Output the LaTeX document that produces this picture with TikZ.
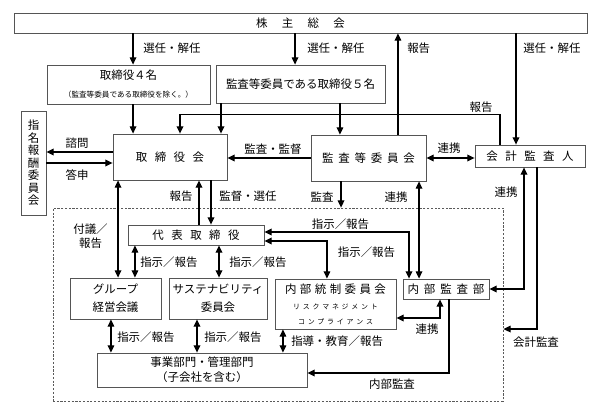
\documentclass[tikz,border=0pt]{standalone}
\usepackage{fontspec}
\setmainfont{Noto Sans CJK JP}
\usetikzlibrary{arrows.meta,positioning,calc}

\newcommand{\gapw}{\hspace{0.65em}}
\newcommand{\gapn}{\hspace{0.42em}}
\newcommand{\gaps}{\hspace{0.4em}}

\tikzset{
  box/.style={draw={rgb, 255:red, 85; green, 85; blue, 85 }, line width=0.6pt, inner sep=0pt, align=center, font=\fontsize{8.6}{11}\selectfont},
  lbl/.style={inner sep=0.75pt, align=center, font=\fontsize{8.6}{10.5}\selectfont},
  arr/.style={line width=0.9pt, -{Triangle[length=5.5pt,width=5pt]}},
  darr/.style={line width=0.9pt, {Triangle[length=5.5pt,width=5pt]}-{Triangle[length=5.5pt,width=5pt]}},
}

\begin{document}
\begin{tikzpicture}[x=0.75pt,y=0.75pt,yscale=-1,xscale=1]
\useasboundingbox (0,0) rectangle (600,403);

%Shape: Dashed frame
\node[draw={rgb, 255:red, 90; green, 90; blue, 90 }, line width=0.5pt, dash pattern=on 1.6pt off 1.2pt, minimum width=337.5pt, minimum height=144.75pt] (inner) at (278,304.5) {};

%Shape: Boxes
\node[box, minimum width=429.75pt, minimum height=15pt] (soukai) at (300.5,23) {株\hspace{1.25em}主\hspace{1.25em}総\hspace{1.25em}会};
\node[box, minimum width=122.25pt, minimum height=29.25pt] (tori4) at (128.5,84.5) {取締役４名\\[2.5pt]{\fontsize{5.7}{7}\selectfont （監査等委員である取締役を除く。）}};
\node[box, minimum width=126.75pt, minimum height=28.5pt] (kansa5) at (300.5,84) {監査等委員である取締役５名};
\node[box, minimum width=85.5pt, minimum height=34.5pt] (board) at (170,157) {取\gapw 締\gapw 役\gapw 会};
\node[box, minimum width=18.75pt, minimum height=78pt, font=\fontsize{8.6}{9.4}\selectfont] (nomi) at (33.5,163) {指\\名\\報\\酬\\委\\員\\会};
\node[box, minimum width=86.25pt, minimum height=34.5pt] (audit) at (368.5,158) {監\gapn 査\gapn 等\gapn 委\gapn 員\gapn 会};
\node[box, minimum width=82.5pt, minimum height=16.5pt] (kaikei) at (530,156) {会\gapw 計\gapw 監\gapw 査\gapw 人};
\node[box, minimum width=102pt, minimum height=15pt] (daihyo) at (196,235) {代\gapw 表\gapw 取\gapw 締\gapw 役};
\node[box, minimum width=68.25pt, minimum height=30.75pt] (group) at (115.5,298.5) {グループ\\[2.5pt]経営会議};
\node[box, minimum width=73.5pt, minimum height=30.75pt] (sustain) at (218,298.5) {サステナビリティ\\[2.5pt]委員会};
\node[box, minimum width=90.75pt, minimum height=37.5pt] (naibu) at (335.5,304) {内\hspace{0.3em}部\hspace{0.3em}統\hspace{0.3em}制\hspace{0.3em}委\hspace{0.3em}員\hspace{0.3em}会\\[1pt]{\fontsize{5.2}{9}\selectfont リ\gaps ス\gaps ク\gaps マ\gaps ネ\gaps ジ\gaps メ\gaps ン\gaps ト}\\{\fontsize{5.2}{9}\selectfont コ\gaps ン\gaps プ\gaps ラ\gaps イ\gaps ア\gaps ン\gaps ス}};
\node[box, minimum width=64.5pt, minimum height=15pt] (auddept) at (446,289) {内\gapn 部\gapn 監\gapn 査\gapn 部};
\node[box, minimum width=157.5pt, minimum height=25.5pt] (jigyo) at (202,370) {事業部門・管理部門\\[0.5pt]（子会社を含む）};

%Arrows: general meeting
\draw[arr] ([xshift=3.4pt]tori4.north |- soukai.south) -- ([xshift=3.4pt]tori4.north);
\draw[arr] ([xshift=-4.1pt]kansa5.north |- soukai.south) -- ([xshift=-4.1pt]kansa5.north);
\draw[arr] ([xshift=22.1pt]audit.north) -- ([xshift=22.1pt]audit.north |- soukai.south);
\draw[arr] ([xshift=-10.5pt]kaikei.north |- soukai.south) -- ([xshift=-10.5pt]kaikei.north);

%Arrows: board
\draw[arr] ([xshift=3.4pt]tori4.south) -- ([xshift=3.4pt]tori4.south |- board.north);
\draw[arr] ([xshift=38.25pt]board.north |- kansa5.south) -- ([xshift=38.25pt]board.north);
\draw[arr] ([xshift=-21.4pt]audit.north |- kansa5.south) -- ([xshift=-21.4pt]audit.north);
\draw[arr] ([xshift=-22.5pt]kaikei.north) -- ++(0,-30) -| ([xshift=7.5pt]board.north);
\draw[arr] ([yshift=-3.75pt]board.west) -- ([yshift=-3.75pt]board.west -| nomi.east);
\draw[arr] ([yshift=4.5pt]board.west -| nomi.east) -- ([yshift=4.5pt]board.west);
\draw[arr] (audit.west) -- (audit.west -| board.east);
\draw[darr] (audit.east) -- (audit.east -| kaikei.west);

%Arrows: executive side
\draw[arr] ([xshift=2.25pt]daihyo.north) -- ([xshift=2.25pt]daihyo.north |- board.south);
\draw[arr] ([xshift=11.25pt]daihyo.north |- board.south) -- ([xshift=11.25pt]daihyo.north);
\draw[darr] ([xshift=1.9pt]group.north |- board.south) -- ([xshift=1.9pt]group.north);
\draw[darr] ([xshift=14.6pt]group.north |- daihyo.south) -- ([xshift=14.6pt]group.north);
\draw[darr] ([xshift=0.75pt]sustain.north |- daihyo.south) -- ([xshift=0.75pt]sustain.north);
\draw[darr] ([yshift=-2.25pt]daihyo.east) -| ([xshift=-27.75pt]auddept.north);
\draw[darr] ([yshift=4.5pt]daihyo.east) -| ([xshift=-6.4pt]naibu.north);
\draw[darr] ([xshift=37.9pt]audit.south) -- ([xshift=37.9pt]audit.south |- auddept.north);
\draw[arr] ([xshift=-20.6pt]audit.south) -- ([xshift=-20.6pt]audit.south |- inner.north);
\draw[darr] (auddept.east) -| ([xshift=-4.5pt]kaikei.south);
\draw[arr] ([xshift=5.25pt]kaikei.south) |- ([yshift=18.4pt]inner.east);
\draw[arr] ([xshift=2.25pt]auddept.south) |- ([yshift=2.25pt]jigyo.east);
\draw[darr] ([yshift=10.5pt]naibu.east) -| ([xshift=-4.5pt]auddept.south);
\draw[darr] ([xshift=-3.4pt]group.south) -- ([xshift=-3.4pt]group.south |- jigyo.north);
\draw[darr] ([xshift=-15.75pt]sustain.south) -- ([xshift=-15.75pt]sustain.south |- jigyo.north);
\draw[darr] ([xshift=-39.4pt]naibu.south) -- ([xshift=-39.4pt]naibu.south |- jigyo.north);

% Text Node
\node[lbl, anchor=west] (l1) at (142,48) {選任・解任};
\node[lbl, anchor=west] (l2) at (306,48) {選任・解任};
\node[lbl, anchor=west] (l3) at (406,48) {報告};
\node[lbl, anchor=west] (l4) at (522,48) {選任・解任};
\node[lbl] (l5) at (481,107) {報告};
\node[lbl] (l6) at (77,143) {諮問};
\node[lbl] (l7) at (77,175) {答申};
\node[lbl] (l8) at (273,149) {監査・監督};
\node[lbl] (l9) at (449,148) {連携};
\node[lbl] (l10) at (181,196) {報告};
\node[lbl] (l11) at (248,196) {監督・選任};
\node[lbl] (l12) at (322,197) {監査};
\node[lbl] (l13) at (396,197) {連携};
\node[lbl] (l14) at (506,192) {連携};
\node[lbl] (l15) at (90.5,236) {付議／\\報告};
\node[lbl, anchor=west] (l16) at (139,262) {指示／報告};
\node[lbl, anchor=west] (l17) at (228,262) {指示／報告};
\node[lbl] (l18) at (340.5,224) {指示／報告};
\node[lbl] (l19) at (366.5,252) {指示／報告};
\node[lbl, anchor=west] (l20) at (116,337) {指示／報告};
\node[lbl, anchor=west] (l21) at (203,337) {指示／報告};
\node[lbl, anchor=west] (l22) at (290,341) {指導・教育／報告};
\node[lbl] (l23) at (427,329) {連携};
\node[lbl] (l24) at (536,342) {会計監査};
\node[lbl] (l25) at (392,384) {内部監査};

\end{tikzpicture}
\end{document}
